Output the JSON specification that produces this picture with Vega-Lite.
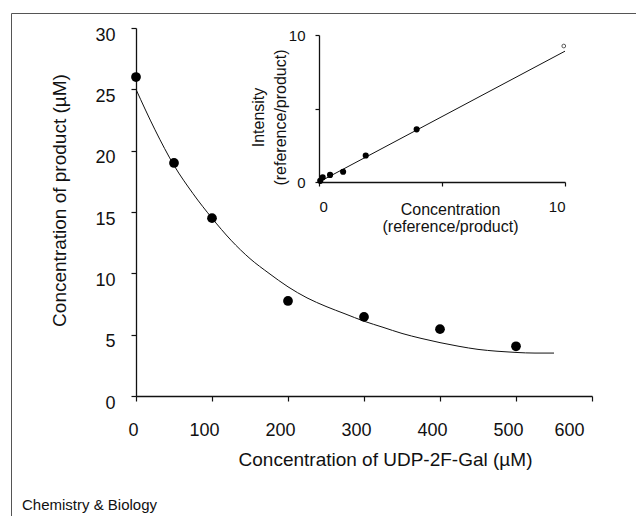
{
  "$schema": "https://vega.github.io/schema/vega-lite/v6.json",
  "width": 456,
  "height": 368,
  "autosize": {"type": "none"},
  "padding": {"left": 136, "top": 28, "right": 44, "bottom": 120},
  "background": "white",
  "config": {
    "font": "Liberation Sans",
    "view": {"stroke": null},
    "axis": {"grid": false, "domainColor": "#111", "tickColor": "#111", "labelColor": "#111", "titleColor": "#111", "titleFontWeight": "normal", "domainWidth": 1.3, "tickWidth": 1.2}
  },
  "datasets": {
    "main": [
      {"conc": 0, "product": 26.0},
      {"conc": 50, "product": 19.0},
      {"conc": 100, "product": 14.5},
      {"conc": 200, "product": 7.75},
      {"conc": 300, "product": 6.45},
      {"conc": 400, "product": 5.45},
      {"conc": 500, "product": 4.05}
    ],
    "fit": [
      {"conc": 0, "product": 25.0},
      {"conc": 25, "product": 21.7},
      {"conc": 50, "product": 18.8},
      {"conc": 75, "product": 16.5},
      {"conc": 100, "product": 14.5},
      {"conc": 125, "product": 12.7},
      {"conc": 150, "product": 11.2},
      {"conc": 175, "product": 10.0},
      {"conc": 200, "product": 8.9},
      {"conc": 225, "product": 8.0},
      {"conc": 250, "product": 7.3},
      {"conc": 275, "product": 6.7},
      {"conc": 300, "product": 6.1},
      {"conc": 325, "product": 5.6},
      {"conc": 350, "product": 5.1},
      {"conc": 375, "product": 4.7},
      {"conc": 400, "product": 4.35},
      {"conc": 425, "product": 4.05},
      {"conc": 450, "product": 3.8},
      {"conc": 475, "product": 3.65},
      {"conc": 500, "product": 3.55},
      {"conc": 525, "product": 3.5},
      {"conc": 550, "product": 3.5}
    ],
    "inset": [
      {"ratio": 0.05, "intensity": 0.08},
      {"ratio": 0.15, "intensity": 0.32},
      {"ratio": 0.45, "intensity": 0.48},
      {"ratio": 0.98, "intensity": 0.7},
      {"ratio": 1.9, "intensity": 1.8},
      {"ratio": 3.97, "intensity": 3.58}
    ],
    "insetfit": [
      {"ratio": 0, "intensity": 0},
      {"ratio": 10, "intensity": 8.9}
    ],
    "insetopen": [
      {"ratio": 9.95, "intensity": 9.25}
    ],
    "note": [
      {"fx": 0, "fy": 0, "label": "Chemistry & Biology"}
    ]
  },
  "layer": [
    {
      "encoding": {
        "x": {"field": "conc", "type": "quantitative",
          "scale": {"domain": [0, 600], "nice": false, "zero": false},
          "axis": {"orient": "bottom", "values": [0, 100, 200, 300, 400, 500, 600], "tickSize": 5, "labelPadding": 20, "labelOffset": -8, "labelFontSize": 18,
            "title": "Concentration of UDP-2F-Gal (µM)", "titleFontSize": 19, "titleX": 249, "titleY": 63, "titleBaseline": "middle", "titleAlign": "center"}},
        "y": {"field": "product", "type": "quantitative",
          "scale": {"domain": [0, 30], "nice": false, "zero": false},
          "axis": {"orient": "left", "values": [0, 5, 10, 15, 20, 25, 30], "tickSize": 5, "labelPadding": 16, "labelOffset": 7, "labelFontSize": 18,
            "title": "Concentration of product (µM)", "titleFontSize": 19, "titleX": -77, "titleY": 172, "titleBaseline": "middle", "titleAngle": -90, "titleAlign": "center"}}
      },
      "layer": [
        {"data": {"name": "fit"}, "mark": {"type": "line", "color": "#111", "strokeWidth": 1, "interpolate": "monotone"}},
        {"data": {"name": "main"}, "mark": {"type": "circle", "color": "#000", "opacity": 1, "size": 95}}
      ]
    },
    {
      "encoding": {
        "x": {"field": "ratio", "type": "quantitative",
          "scale": {"domain": [0, 10], "range": [183, 429], "nice": false, "zero": false},
          "axis": {"orient": "bottom", "offset": -214, "values": [0, 5, 10], "labelExpr": "datum.value == 5 ? '' : datum.label", "tickSize": 4, "labelPadding": 13, "labelFontSize": 15,
            "title": ["Concentration", "(reference/product)"], "titleFontSize": 16, "titleLineHeight": 17, "titleX": 314, "titleY": 27, "titleBaseline": "middle", "titleAlign": "center"}},
        "y": {"field": "intensity", "type": "quantitative",
          "scale": {"domain": [0, 10], "range": [154, 7], "nice": false, "zero": false},
          "axis": {"orient": "left", "offset": -183, "values": [0, 5, 10], "labelExpr": "datum.value == 5 ? '' : datum.label", "tickSize": 4, "labelPadding": 10, "labelFontSize": 15,
            "title": ["Intensity", "(reference/product)"], "titleFontSize": 16, "titleLineHeight": 22, "titleX": -61, "titleY": 89, "titleBaseline": "middle", "titleAngle": -90, "titleAlign": "center"}}
      },
      "layer": [
        {"data": {"name": "insetfit"}, "mark": {"type": "line", "color": "#111", "strokeWidth": 1}},
        {"data": {"name": "inset"}, "mark": {"type": "circle", "color": "#000", "opacity": 1, "size": 38}},
        {"data": {"name": "insetopen"}, "mark": {"type": "point", "color": "#111", "filled": false, "size": 14, "strokeWidth": 1}}
      ]
    },
    {
      "data": {"name": "note"},
      "mark": {"type": "text", "align": "left", "baseline": "middle", "dx": 11, "dy": -11, "fontSize": 15, "color": "#111"},
      "encoding": {
        "x": {"field": "fx", "type": "quantitative",
          "scale": {"domain": [0, 1], "range": [-125, 500], "nice": false, "zero": false},
          "axis": {"orient": "top", "offset": 15, "ticks": false, "labels": false, "title": null, "domainColor": "#555", "domainWidth": 1}},
        "y": {"field": "fy", "type": "quantitative",
          "scale": {"domain": [0, 1], "range": [488, -15], "nice": false, "zero": false},
          "axis": {"orient": "left", "offset": 125, "ticks": false, "labels": false, "title": null, "domainColor": "#555", "domainWidth": 1}},
        "text": {"field": "label"}
      }
    }
  ],
  "resolve": {
    "scale": {"x": "independent", "y": "independent"},
    "axis": {"x": "independent", "y": "independent"}
  }
}
